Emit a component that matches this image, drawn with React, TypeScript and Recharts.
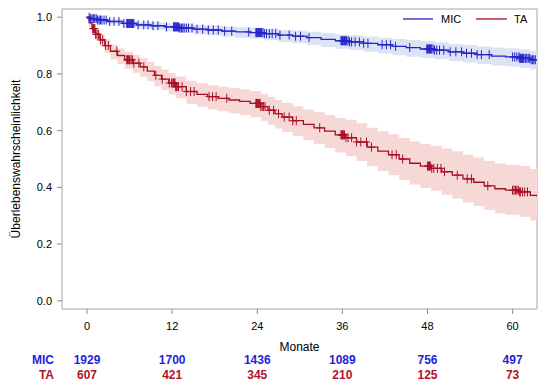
import {
  Area,
  ComposedChart,
  Legend,
  Line,
  ReferenceArea,
  Scatter,
  XAxis,
  YAxis,
} from 'recharts';

const FONT = 'Arial, "Liberation Sans", sans-serif';
const MIC_COLOR = '#2424c8';
const MIC_TEXT = '#1f1fdc';
const MIC_BAND = '#dce3f5';
const TA_COLOR = '#a80f25';
const TA_TEXT = '#b0132a';
const TA_BAND = '#f6d9d7';

const X_DOMAIN: [number, number] = [-3.53, 63.44];
const Y_DOMAIN: [number, number] = [-0.029, 1.029];

const months = [0, 12, 24, 36, 48, 60];
const survTicks = [0, 0.2, 0.4, 0.6, 0.8, 1.0];
const atRiskMic = [1929, 1700, 1436, 1089, 756, 497];
const atRiskTa = [607, 421, 345, 210, 125, 73];

// MIC: Kaplan-Meier steps with 95% band
const micTime = [0, 0.5, 1.5, 3, 5, 7, 9, 11, 13, 15, 17, 19, 21, 23, 25, 27, 29, 31, 33, 35, 37, 39, 41, 43, 45, 47, 49, 51, 53, 55, 57, 59, 61, 62.5, 63.44];
const micSurv = [1, 0.995, 0.99, 0.985, 0.978, 0.973, 0.97, 0.966, 0.962, 0.958, 0.955, 0.951, 0.948, 0.946, 0.942, 0.937, 0.933, 0.928, 0.922, 0.917, 0.913, 0.908, 0.903, 0.897, 0.893, 0.888, 0.884, 0.878, 0.873, 0.868, 0.863, 0.86, 0.855, 0.85, 0.85];
const micLower = [1, 0.988, 0.98, 0.974, 0.965, 0.959, 0.955, 0.95, 0.945, 0.94, 0.936, 0.931, 0.927, 0.924, 0.919, 0.913, 0.908, 0.902, 0.895, 0.889, 0.884, 0.878, 0.872, 0.866, 0.861, 0.856, 0.852, 0.846, 0.84, 0.835, 0.83, 0.826, 0.821, 0.816, 0.816];
const micUpper = [1, 0.999, 0.996, 0.993, 0.988, 0.984, 0.982, 0.979, 0.976, 0.973, 0.971, 0.968, 0.965, 0.963, 0.96, 0.956, 0.953, 0.949, 0.944, 0.939, 0.936, 0.932, 0.928, 0.923, 0.92, 0.916, 0.912, 0.906, 0.902, 0.897, 0.893, 0.891, 0.887, 0.882, 0.882];
const micCensor = [
  0.3, 0.5, 0.7, 0.9, 1.1, 1.3, 1.5, 1.7, 1.9, 2.1, 2.4, 2.7, 3.2, 3.8, 4.5, 5.2,
  5.6, 5.7, 5.8, 5.9, 6.0, 6.1, 6.2, 6.3, 6.4, 6.5, 6.6, 7.2, 8.0, 8.6, 9.3, 10.0, 11.2,
  12.2, 12.3, 12.4, 12.5, 12.6, 12.7, 12.8, 12.9, 13.0, 13.1, 13.3, 13.5, 13.7, 14.0, 14.3, 14.8,
  15.5, 16.3, 17.1, 17.8, 18.5, 19.4, 20.4, 22.8,
  23.8, 23.9, 24.0, 24.1, 24.2, 24.3, 24.4, 24.5, 24.6, 24.8, 25.0, 25.3, 25.7, 26.1, 26.6, 27.2,
  28.5, 29.4, 30.1, 31.3,
  35.8, 35.9, 36.0, 36.1, 36.2, 36.3, 36.4, 36.5, 36.6, 36.8, 37.0, 37.3, 37.8, 38.4, 39.0, 39.6,
  41.6, 42.2, 42.8, 43.5, 45.5,
  47.9, 48.0, 48.1, 48.2, 48.3, 48.4, 48.5, 48.6, 48.8, 49.0, 49.3, 49.7, 50.3,
  51.2, 52.0, 52.8, 53.5, 54.2, 55.0, 55.6, 56.7,
  60.0, 60.3, 60.6, 60.9, 61.0, 61.1, 61.2, 61.3, 61.4, 61.5, 61.6, 61.8, 62.0, 62.2, 62.4, 62.6, 62.8, 63.0, 63.2,
];

// TA
const taTime = [0, 0.3, 0.7, 1.2, 1.8, 2.5, 3.3, 4.3, 5.3, 6.5, 7.5, 8.5, 9.5, 10.5, 11.5, 12.5, 14, 15.5, 17, 18.5, 20, 21.5, 23, 24.5, 25.5, 26.5, 27.5, 29, 30.5, 32, 33.5, 35, 36.5, 38, 39.5, 41, 42.5, 44, 45.5, 47, 48.5, 50, 51.5, 53, 54.5, 56, 57.5, 59, 61, 62.5, 63.44];
const taSurv = [1, 0.98, 0.96, 0.94, 0.92, 0.9, 0.88, 0.865, 0.85, 0.838, 0.825, 0.81, 0.795, 0.782, 0.768, 0.755, 0.738, 0.728, 0.72, 0.714, 0.708, 0.703, 0.696, 0.685, 0.672, 0.66, 0.648, 0.635, 0.622, 0.61, 0.598, 0.585, 0.575, 0.56, 0.542, 0.528, 0.515, 0.5, 0.485, 0.475, 0.467, 0.455, 0.443, 0.43, 0.418, 0.405, 0.395, 0.39, 0.384, 0.372, 0.368];
const taLower = [1, 0.966, 0.942, 0.919, 0.896, 0.874, 0.852, 0.835, 0.818, 0.804, 0.79, 0.774, 0.757, 0.743, 0.728, 0.714, 0.695, 0.684, 0.675, 0.668, 0.661, 0.655, 0.647, 0.635, 0.621, 0.608, 0.595, 0.58, 0.566, 0.552, 0.538, 0.523, 0.51, 0.493, 0.474, 0.458, 0.443, 0.426, 0.41, 0.398, 0.388, 0.374, 0.361, 0.347, 0.334, 0.32, 0.309, 0.303, 0.296, 0.283, 0.279];
const taUpper = [1, 0.989, 0.974, 0.957, 0.94, 0.922, 0.904, 0.891, 0.878, 0.868, 0.856, 0.842, 0.828, 0.816, 0.803, 0.791, 0.776, 0.767, 0.76, 0.755, 0.75, 0.746, 0.74, 0.73, 0.719, 0.708, 0.698, 0.686, 0.675, 0.665, 0.655, 0.645, 0.638, 0.626, 0.61, 0.598, 0.587, 0.574, 0.562, 0.553, 0.547, 0.537, 0.527, 0.515, 0.505, 0.493, 0.484, 0.48, 0.475, 0.465, 0.467];
const taCensor = [
  0.8, 0.9, 1.0, 1.1, 1.2, 1.4, 1.6, 1.9, 2.2, 2.6, 3.0, 4.2,
  5.6, 5.7, 5.8, 5.9, 6.0, 6.2, 6.4, 6.6, 7.3, 8.0, 9.7, 10.6,
  11.6, 11.9, 12.1, 12.2, 12.3, 12.4, 12.5, 12.6, 12.8, 12.9, 13.4, 14.0, 14.6, 15.1,
  17.2, 17.7, 18.2, 19.7,
  23.8, 23.9, 24.0, 24.1, 24.2, 24.3, 24.4, 24.5, 24.7, 24.9, 25.1, 25.7, 26.3, 27.0, 27.8, 28.5, 29.0, 29.5, 32.8,
  35.8, 35.9, 36.0, 36.1, 36.2, 36.3, 36.5, 36.8, 37.3, 38.0, 38.6, 39.4, 40.1, 43.0, 43.6, 44.5,
  48.0, 48.1, 48.2, 48.3, 48.4, 48.6, 48.9, 49.4, 49.9, 50.4, 52.2, 53.6, 54.2, 56.5,
  60.0, 60.2, 60.4, 60.6, 60.8, 61.0, 61.1, 61.4, 61.7, 62.1,
];

type Pt = { t: number; s: number; band: [number, number] };

function buildCurve(time: number[], surv: number[], lo: number[], hi: number[]): Pt[] {
  return time.map((t, i) => ({ t, s: surv[i], band: [lo[i], hi[i]] }));
}

// value of the step curve at time c
function survAt(curve: Pt[], c: number) {
  let s = curve[0].s;
  for (const p of curve) {
    if (p.t <= c) s = p.s;
    else break;
  }
  return s;
}

const micCurve = buildCurve(micTime, micSurv, micLower, micUpper);
const taCurve = buildCurve(taTime, taSurv, taLower, taUpper);
const micMarks = micCensor.map((t) => ({ t, s: survAt(micCurve, t) }));
const taMarks = taCensor.map((t) => ({ t, s: survAt(taCurve, t) }));

const plus = (color: string) => (props: any) => {
  const { cx, cy } = props;
  if (cx == null || cy == null) return <g />;
  return (
    <path
      d={`M${cx - 3.5},${cy}H${cx + 3.5}M${cx},${cy - 4.5}V${cy + 4.5}`}
      stroke={color}
      strokeWidth={1}
      fill="none"
    />
  );
};

// month label plus the two numbers-at-risk rows underneath
function MonthTick(props: any) {
  const { x, y, payload } = props;
  const i = months.indexOf(payload.value);
  return (
    <g fontFamily={FONT} textAnchor="middle">
      <text x={x} y={y} dy="0.71em" fontSize={11} fill="#000">
        {payload.value}
      </text>
      <text x={x} y={y + 42.3} fontSize={12} fontWeight="bold" fill={MIC_TEXT}>
        {atRiskMic[i]}
      </text>
      <text x={x} y={y + 56.6} fontSize={12} fontWeight="bold" fill={TA_TEXT}>
        {atRiskTa[i]}
      </text>
    </g>
  );
}

function LegendBox() {
  return (
    <svg width={140} height={18} style={{ display: 'block' }}>
      <line x1={3} x2={33} y1={9} y2={9} stroke={MIC_COLOR} strokeWidth={1.3} />
      <text x={41} y={13} fontSize={11} fontFamily={FONT} fill="#000">MIC</text>
      <line x1={76} x2={107} y1={9} y2={9} stroke={TA_COLOR} strokeWidth={1.3} />
      <text x={114} y={13} fontSize={11} fontFamily={FONT} fill="#000">TA</text>
    </svg>
  );
}

export default function App() {
  return (
    <div style={{ position: 'absolute', left: 0, top: 0, background: '#fff' }}>
      <ComposedChart width={546} height={390} margin={{ top: 9, right: 9, bottom: 9, left: 0 }}>
        <XAxis
          dataKey="t"
          type="number"
          domain={X_DOMAIN}
          ticks={months}
          allowDataOverflow
          axisLine={false}
          tickLine={{ stroke: '#8c8c8c' }}
          tickSize={5}
          tickMargin={8}
          height={72}
          tick={<MonthTick />}
          label={({ viewBox }: any) => (
            <g fontFamily={FONT}>
              <text x={viewBox.x + viewBox.width / 2} y={viewBox.y + 42} textAnchor="middle" fontSize={12} fill="#000">
                Monate
              </text>
              <text x={viewBox.x - 8} y={viewBox.y + 55.3} textAnchor="end" fontSize={12} fontWeight="bold" fill={MIC_TEXT}>
                MIC
              </text>
              <text x={viewBox.x - 8} y={viewBox.y + 69.6} textAnchor="end" fontSize={12} fontWeight="bold" fill={TA_TEXT}>
                TA
              </text>
            </g>
          )}
        />
        <YAxis
          dataKey="s"
          type="number"
          domain={Y_DOMAIN}
          ticks={survTicks}
          allowDataOverflow
          width={62}
          axisLine={false}
          tickLine={{ stroke: '#8c8c8c' }}
          tickSize={5}
          tickMargin={5}
          tick={{ fontSize: 11, fontFamily: FONT, fill: '#000' }}
          tickFormatter={(v: number) => v.toFixed(1)}
          label={({ viewBox }: any) => {
            const x = viewBox.x + 20;
            const y = viewBox.y + viewBox.height / 2;
            return (
              <text
                x={x}
                y={y}
                transform={`rotate(-90 ${x} ${y})`}
                textAnchor="middle"
                fontSize={12}
                fontFamily={FONT}
                fill="#000"
              >
                Überlebenswahrscheinlichkeit
              </text>
            );
          }}
        />
        <ReferenceArea
          x1={X_DOMAIN[0]}
          x2={X_DOMAIN[1]}
          y1={Y_DOMAIN[0]}
          y2={Y_DOMAIN[1]}
          fill="none"
          stroke="#a6a6a6"
          ifOverflow="visible"
        />
        <Area
          data={micCurve}
          dataKey="band"
          type="stepAfter"
          stroke="none"
          fill={MIC_BAND}
          fillOpacity={1}
          isAnimationActive={false}
        />
        <Area
          data={taCurve}
          dataKey="band"
          type="stepAfter"
          stroke="none"
          fill={TA_BAND}
          fillOpacity={1}
          isAnimationActive={false}
        />
        <Line
          data={micCurve}
          dataKey="s"
          type="stepAfter"
          stroke={MIC_COLOR}
          strokeWidth={1.3}
          dot={false}
          isAnimationActive={false}
        />
        <Line
          data={taCurve}
          dataKey="s"
          type="stepAfter"
          stroke={TA_COLOR}
          strokeWidth={1.3}
          dot={false}
          isAnimationActive={false}
        />
        <Scatter data={micMarks} dataKey="s" shape={plus(MIC_COLOR)} isAnimationActive={false} />
        <Scatter data={taMarks} dataKey="s" shape={plus(TA_COLOR)} isAnimationActive={false} />
        <Legend
          layout="horizontal"
          align="center"
          verticalAlign="middle"
          content={() => <LegendBox />}
          wrapperStyle={{ top: 10, left: 400, width: 140, height: 18 }}
        />
      </ComposedChart>
    </div>
  );
}
